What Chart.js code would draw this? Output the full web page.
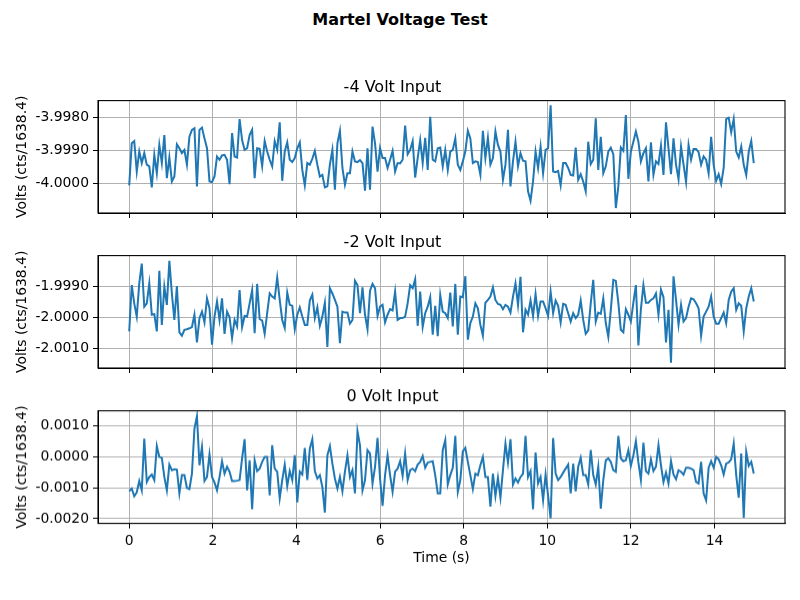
<!DOCTYPE html>
<html><head><meta charset="utf-8">
<script src="https://cdn.jsdelivr.net/npm/chart.js@4"></script>
<style>
body{margin:0;background:#fff;width:800px;height:600px;overflow:hidden;position:relative;font-family:"DejaVu Sans",sans-serif;}
#title{position:absolute;left:0;top:10px;width:800px;text-align:center;font-weight:bold;font-size:16px;line-height:20px;color:#000;}
.box{position:absolute;left:0;width:800px;}
</style></head><body>
<div id="title">Martel Voltage Test</div>
<div class="box" style="top:67px;height:159px"><canvas id="c1"></canvas></div>
<div class="box" style="top:222px;height:159px"><canvas id="c2"></canvas></div>
<div class="box" style="top:377.4px;height:188.9px"><canvas id="c3"></canvas></div>
<script>
const sampleInterval = 0.06; // seconds between samples
const panelTitles = ["-4 Volt Input", "-2 Volt Input", "0 Volt Input"];
const xTicks = [0, 2, 4, 6, 8, 10, 12, 14];
const yTicksNeg4 = [-4.000, -3.999, -3.998];
const yTicksNeg2 = [-2.001, -2.000, -1.999];
const yTicksZero = [-0.002, -0.001, 0.000, 0.001];

const voltsNeg4 = [
-4.00006,-3.99878,-3.99871,-3.99964,-3.99903,-3.99938,-3.99908,-3.99943,-3.99948,-4.00012,
-3.99913,-3.99969,-3.99883,-3.99938,-3.99853,-3.99984,-3.99921,-3.99994,-3.99979,-3.99881,
-3.99893,-3.99908,-3.99898,-3.99943,-3.99858,-3.99837,-3.99832,-4.00009,-3.99837,-3.99830,
-3.99863,-3.99893,-3.99994,-3.99996,-3.99979,-3.99918,-3.99928,-3.99915,-3.99913,-3.99928,
-4.00002,-3.99847,-3.99918,-3.99921,-3.99804,-3.99868,-3.99898,-3.99893,-3.99853,-3.99837,
-3.99984,-3.99893,-3.99895,-3.99948,-3.99871,-3.99903,-3.99928,-3.99948,-3.99871,-3.99898,
-3.99814,-3.99992,-3.99903,-3.99875,-3.99928,-3.99935,-3.99923,-3.99893,-3.99875,-3.99959,
-4.00006,-3.99938,-3.99943,-3.99925,-3.99901,-3.99943,-3.99979,-3.99974,-4.00012,-4.00009,-3.99943,
-3.99898,-4.00019,-3.99878,
-3.99840,-3.99953,-4.00004,-3.99969,-3.99969,-3.99903,-3.99933,-3.99935,-3.99929,-3.99938,
-4.00022,-3.99893,-4.00019,-3.99827,-3.99878,-3.99964,-3.99893,-3.99923,-3.99923,-3.99953,
-3.99928,-3.99901,-3.99964,-3.99938,-3.99939,-3.99928,-3.99824,-3.99911,-3.99898,-3.99871,
-3.99982,-3.99923,-3.99868,-3.99938,-3.99861,-3.99959,-3.99797,-3.99928,-3.99933,-3.99893,
-3.99891,-3.99948,-3.99898,-3.99959,-3.99903,-3.99898,-3.99863,-3.99943,-3.99959,-3.99933,
-3.99903,-3.99840,-3.99863,-3.99938,-3.99933,-3.99935,-3.99974,-3.99840,-3.99923,-3.99861,
-3.99943,-3.99923,-3.99842,-3.99883,-3.99903,-3.99989,-3.99943,-3.99837,-4.00009,-3.99933,
-3.99873,-3.99948,-3.99908,-3.99931,-3.99933,-4.00024,-4.00053,-3.99994,-3.99903,-3.99953,
-3.99888,-3.99969,-3.99898,-3.99893,
-3.99762,-3.99964,-3.99966,-3.99962,-4.00006,-3.99938,-3.99938,-3.99953,-3.99974,-3.99976,
-3.99891,-3.99989,-3.99972,-3.99994,-4.00024,-3.99873,-3.99941,-3.99928,-3.99802,-3.99959,
-3.99858,-3.99969,-3.99948,-3.99903,-3.99891,-3.99911,-4.00075,-4.00009,-3.99891,-3.99901,
-3.99792,-3.99986,-3.99903,-3.99873,-3.99842,-3.99873,-3.99933,-3.99908,-3.99893,-3.99994,
-3.99875,-3.99974,-3.99933,-3.99941,-3.99885,-3.99974,-3.99814,-3.99893,-3.99972,-3.99863,
-3.99943,-3.99987,-3.99888,-3.99943,-3.99996,-3.99883,-3.99928,-3.99895,-3.99895,-3.99905,
-3.99943,-3.99918,-3.99928,-3.99969,-3.99858,-3.99943,-3.99992,-3.99972,-4.00002,-3.99953,
-3.99804,-3.99800,-3.99844,-3.99804,-3.99903,-3.99921,-3.99888,-3.99943,-3.99974,-3.99903,
-3.99871,-3.99938
];

const voltsNeg2 = [
-2.00045,-1.99895,-1.99954,-1.99997,-1.99889,-1.99825,-1.99965,-1.99954,-1.99889,-1.99991,
-1.99989,-2.00045,-1.99848,-2.00024,-1.99900,-1.99959,-1.99816,-1.99922,-2.00008,-1.99898,
-2.00048,-2.00059,-2.00040,-2.00038,-2.00035,-2.00031,-1.99991,-2.00081,-2.00002,-1.99981,
-2.00016,-1.99938,-1.99970,-2.00088,-1.99997,-1.99948,-2.00008,-1.99938,-2.00053,-1.99981,
-1.99999,-2.00067,-2.00008,-2.00029,-1.99911,-2.00031,-1.99995,-1.99997,-1.99954,-1.99911,
-2.00051,-1.99891,-2.00005,-2.00010,-2.00053,-1.99986,-1.99922,-1.99932,-1.99938,-1.99870,
-1.99943,-2.00008,-2.00034,-1.99919,-1.99959,-1.99962,-2.00038,-1.99991,-1.99967,-1.99997,
-2.00024,-2.00024,-1.99945,-1.99926,-2.00002,-1.99967,-2.00027,-1.99997,-1.99952,-2.00096,
-1.99905,
-1.99922,-1.99943,-1.99965,-2.00083,-1.99981,-1.99984,-1.99984,-2.00020,-2.00008,-1.99881,
-1.99895,-1.99986,-1.99902,-1.99991,-2.00038,-1.99913,-1.99891,-1.99905,-1.99995,-1.99965,
-1.99959,-2.00016,-1.99991,-1.99973,-1.99977,-1.99916,-2.00008,-2.00002,-2.00002,-1.99997,
-1.99954,-1.99895,-1.99905,-1.99876,-2.00027,-1.99916,-2.00031,-1.99986,-1.99965,-1.99934,
-2.00056,-1.99962,-2.00061,-1.99927,-1.99981,-1.99986,-2.00002,-1.99919,-2.00029,-1.99891,
-2.00056,-1.99932,-1.99934,-1.99866,-2.00072,-2.00018,-1.99997,-1.99954,-1.99970,-2.00024,
-2.00059,-1.99952,-1.99943,-1.99932,-1.99902,-1.99943,-1.99956,-1.99959,-1.99973,-1.99959,
-1.99965,-1.99984,-1.99932,-1.99889,-1.99959,-1.99868,-2.00048,-1.99975,-1.99991,-1.99945,
-1.99995,-1.99924,-1.99995,-1.99948,-1.99948,-1.99970,-1.99995,
-1.99916,-1.99986,-1.99945,-1.99962,-2.00016,-1.99956,-1.99959,-1.99986,-2.00013,-1.99986,
-2.00002,-1.99991,-1.99945,-2.00008,-2.00053,-2.00042,-1.99954,-1.99878,-2.00013,-1.99984,
-1.99988,-1.99938,-2.00018,-2.00063,-1.99975,-1.99878,-1.99881,-1.99952,-2.00040,-2.00048,
-1.99973,-1.99991,-2.00013,-1.99952,-1.99895,-2.00091,-1.99973,-1.99895,-1.99952,-1.99952,
-1.99943,-1.99938,-1.99922,-1.99991,-1.99909,-1.99934,-2.00081,-1.99975,-2.00147,-1.99866,
-1.99943,-2.00024,-1.99959,-2.00013,-2.00002,-1.99965,-1.99938,-1.99941,-1.99954,-1.99970,
-2.00059,-1.99997,-1.99981,-1.99965,-1.99932,-1.99997,-2.00020,-2.00020,-2.00002,-1.99984,
-2.00018,-1.99943,-1.99916,-1.99905,-1.99975,-1.99954,-1.99962,-2.00045,-1.99970,-1.99932,
-1.99905,-1.99948
];

const voltsZero = [
-0.00111,-0.00102,-0.00127,-0.00115,-0.00078,-0.00108,0.00059,-0.00081,-0.00065,-0.00057,
-0.00075,0.00035,0.00000,-0.00003,-0.00065,-0.00108,-0.00025,-0.00043,-0.00040,-0.00041,
-0.00118,-0.00059,-0.00059,-0.00100,-0.00104,-0.00054,0.00091,0.00132,-0.00027,0.00032,
-0.00078,-0.00065,0.00008,-0.00065,-0.00083,-0.00108,-0.00065,-0.00014,-0.00054,-0.00032,
-0.00048,-0.00078,-0.00078,-0.00077,-0.00075,-0.00005,0.00057,-0.00108,-0.00011,-0.00169,
-0.00011,-0.00046,-0.00038,-0.00016,0.00000,0.00000,-0.00124,0.00038,-0.00038,-0.00048,
-0.00134,-0.00075,-0.00025,-0.00094,-0.00046,-0.00075,0.00005,-0.00147,-0.00048,-0.00057,
0.00029,-0.00075,0.00027,0.00057,-0.00046,-0.00070,-0.00059,-0.00097,-0.00180,0.00005,
0.00035,
-0.00022,-0.00070,-0.00102,-0.00065,-0.00111,-0.00048,0.00005,-0.00065,-0.00043,-0.00118,
0.00083,0.00038,-0.00108,-0.00075,0.00022,0.00011,-0.00086,-0.00032,0.00061,-0.00070,
-0.00158,-0.00059,0.00005,-0.00059,-0.00113,-0.00048,-0.00038,-0.00014,-0.00061,0.00011,
-0.00075,-0.00043,-0.00038,-0.00046,-0.00025,-0.00016,0.00003,-0.00035,-0.00018,-0.00016,
-0.00014,-0.00059,-0.00118,-0.00118,0.00022,0.00054,-0.00089,-0.00059,-0.00035,0.00068,
-0.00113,-0.00075,0.00018,0.00029,-0.00016,-0.00059,-0.00104,-0.00054,-0.00059,-0.00027,
0.00000,-0.00065,-0.00065,-0.00161,-0.00054,-0.00126,-0.00068,-0.00132,-0.00043,0.00043,
-0.00018,0.00057,-0.00089,-0.00070,-0.00083,-0.00065,-0.00054,0.00068,-0.00065,-0.00046,
-0.00169,0.00014,-0.00086,-0.00065,-0.00140,-0.00057,-0.00126,
-0.00199,0.00061,-0.00054,-0.00075,-0.00065,-0.00051,-0.00038,-0.00025,-0.00118,-0.00022,
-0.00111,-0.00032,-0.00003,-0.00059,-0.00059,-0.00089,0.00022,-0.00059,-0.00089,-0.00032,
-0.00167,-0.00075,-0.00011,-0.00005,-0.00016,-0.00043,-0.00048,0.00068,-0.00005,-0.00014,
-0.00011,0.00022,-0.00029,0.00005,0.00051,-0.00018,-0.00075,0.00046,-0.00046,-0.00054,
-0.00008,-0.00046,-0.00032,0.00038,-0.00027,-0.00081,-0.00051,-0.00086,-0.00014,-0.00057,
-0.00072,-0.00043,-0.00048,-0.00057,-0.00035,-0.00035,-0.00038,-0.00043,-0.00081,-0.00086,
-0.00016,-0.00118,-0.00140,-0.00035,-0.00014,-0.00035,0.00000,-0.00008,-0.00027,-0.00057,
-0.00022,-0.00018,-0.00008,0.00043,-0.00059,-0.00132,0.00011,-0.00197,0.00016,-0.00029,
-0.00016,-0.00054
];

const FONT = "'DejaVu Sans', sans-serif";
const TICK_FONT = {family: FONT, size: 13.9};

const frame = {
  id: 'frame',
  afterDraw(chart) {
    const a = chart.chartArea, c = chart.ctx;
    c.save();
    c.strokeStyle = '#000';
    c.lineWidth = 1.1;
    c.strokeRect(a.left, a.top, a.right - a.left, a.bottom - a.top);
    c.restore();
  }
};

function makeChart(id, title, values, yTicks, yMin, yMax, showX) {
  const pts = values.map((v, i) => ({x: i * sampleInterval, y: v}));
  return new Chart(document.getElementById(id), {
    type: 'line',
    data: {datasets: [{data: pts, borderColor: '#1f77b4', borderWidth: 2, pointRadius: 0, tension: 0, fill: false}]},
    options: {
      responsive: true, maintainAspectRatio: false, animation: false,
      layout: {padding: {left: 0, right: 15, top: 0, bottom: 0}},
      plugins: {
        legend: {display: false}, tooltip: {enabled: false},
        title: {display: true, text: title, color: '#000', font: {family: FONT, size: 16, weight: 'normal'}, padding: showX ? {top: 10, bottom: 4.4} : {top: 11, bottom: 3.4}}
      },
      scales: {
        x: {
          type: 'linear', min: -0.747, max: 15.687,
          afterBuildTicks: s => { s.ticks = xTicks.map(v => ({value: v})); },
          afterFit: s => { s.height = showX ? 43.3 : 13; },
          ticks: {display: showX, color: '#000', font: TICK_FONT, padding: 4, maxRotation: 0, autoSkip: false, callback: v => String(v)},
          grid: {color: '#b0b0b0', lineWidth: 1, tickColor: '#000', tickLength: 5, drawTicks: true},
          border: {display: true, color: '#000', width: 1},
          title: {display: showX, text: 'Time (s)', color: '#000', font: TICK_FONT, padding: {top: 0, bottom: 0}}
        },
        y: {
          min: yMin, max: yMax,
          afterBuildTicks: s => { s.ticks = yTicks.map(v => ({value: v})); },
          afterFit: s => { s.width = 98; },
          ticks: {color: '#000', font: TICK_FONT, padding: 4, callback: v => v.toFixed(4)},
          grid: {color: '#b0b0b0', lineWidth: 1, tickColor: '#000', tickLength: 5, drawTicks: true},
          border: {display: true, color: '#000', width: 1},
          title: {display: true, text: 'Volts (cts/1638.4)', color: '#000', font: TICK_FONT, padding: {top: 13.7, bottom: 0}}
        }
      }
    },
    plugins: [frame]
  });
}

makeChart('c1', panelTitles[0], voltsNeg4, yTicksNeg4, -4.0009, -3.99748, false);
makeChart('c2', panelTitles[1], voltsNeg2, yTicksNeg2, -2.00164, -1.99799, false);
makeChart('c3', panelTitles[2], voltsZero, yTicksZero, -0.00215, 0.00149, true);
</script>
</body></html>
